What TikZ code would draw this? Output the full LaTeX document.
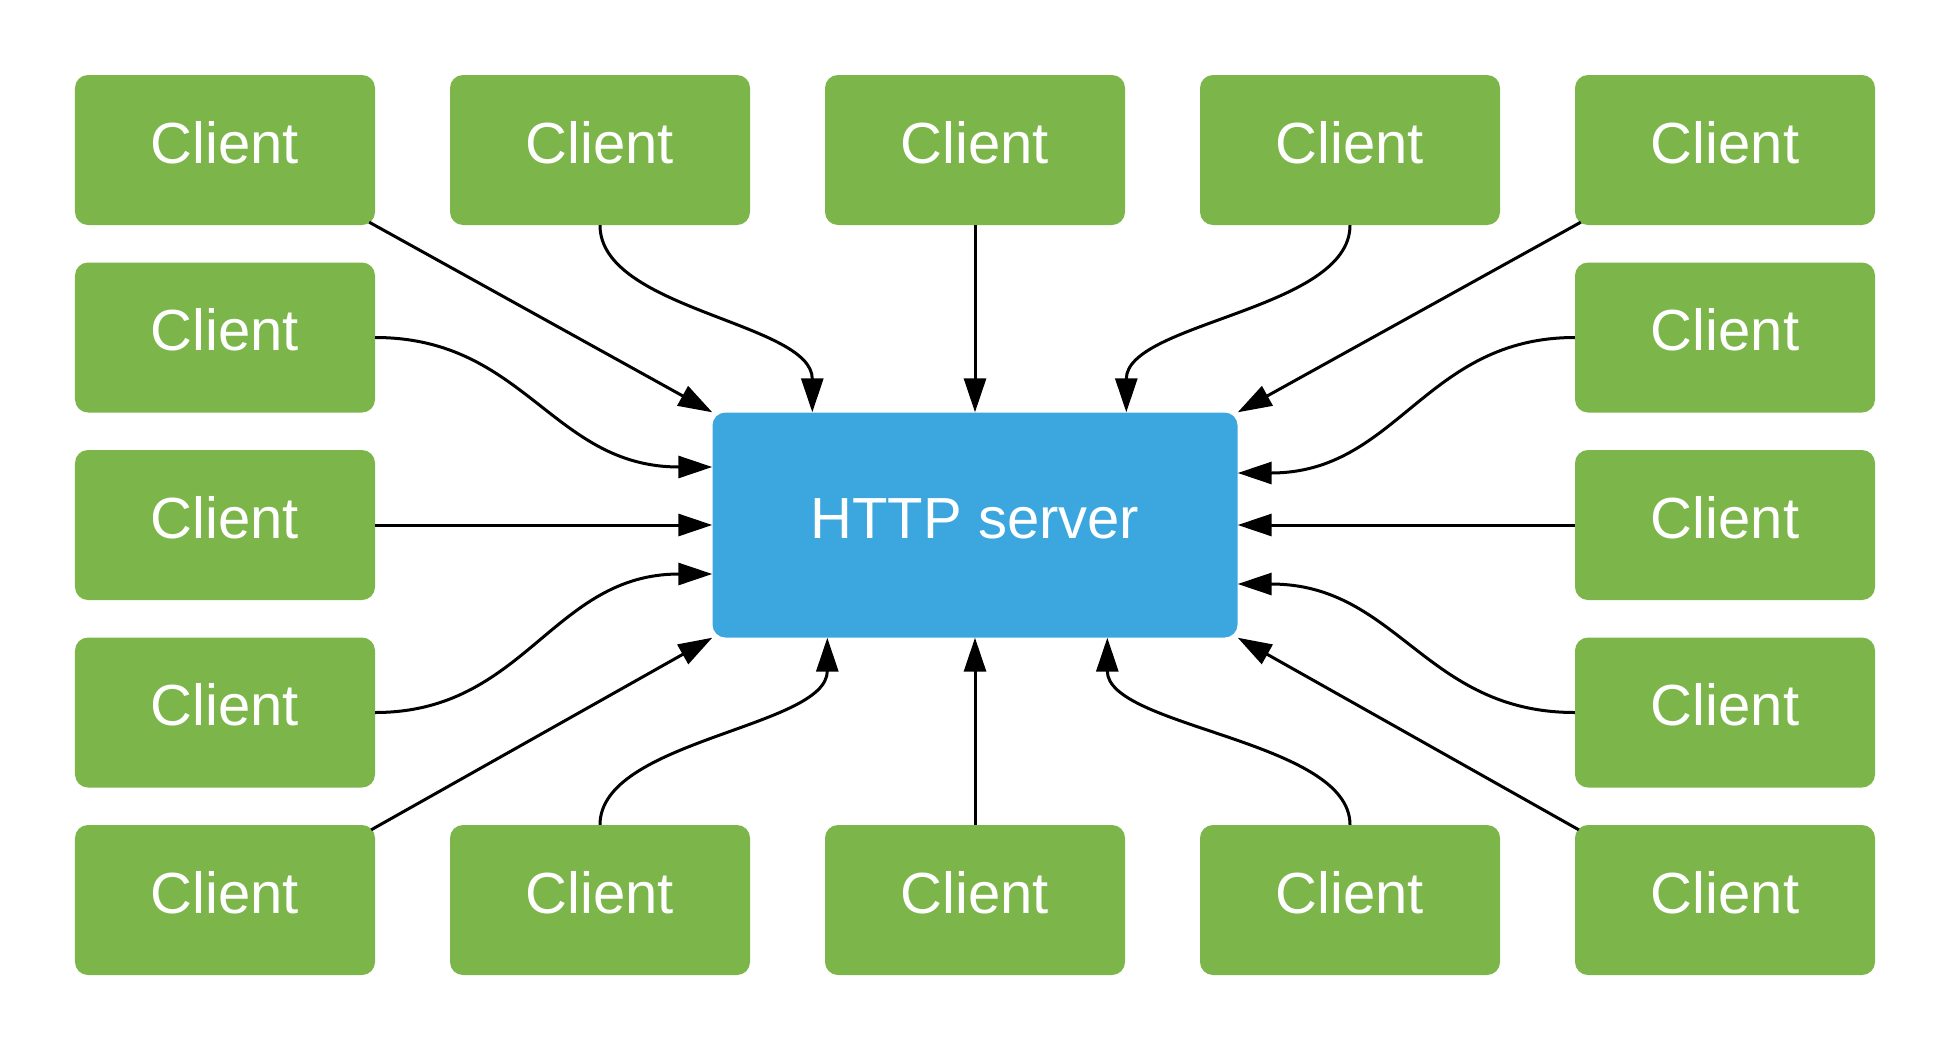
\documentclass[tikz,border=0pt]{standalone}
\usepackage{fontspec}
\setmainfont{Liberation Sans}
\usetikzlibrary{arrows.meta,calc}
\definecolor{cgreen}{HTML}{7CB64A}
\definecolor{sblue}{HTML}{3CA6DF}
\tikzset{
  client/.style={fill=cgreen, rounded corners=13bp, minimum width=300bp, minimum height=150bp,
    text=white, font=\fontsize{58bp}{60bp}\selectfont, text height=42bp, text depth=16bp, inner sep=0bp},
  server/.style={fill=sblue, rounded corners=13bp, minimum width=525bp, minimum height=225bp,
    text=white, font=\fontsize{58bp}{60bp}\selectfont, text height=42bp, text depth=16bp, inner sep=0bp},
  conn/.style={draw=black, line width=3bp, -{Triangle[length=34bp,width=22bp]}}
}
\begin{document}
\begin{tikzpicture}[x=1bp,y=-1bp]
\useasboundingbox (0,0) rectangle (1950,1050);
% server
\node[server] (srv) at (975,525) {HTTP server};
% top row
\node[client] (c11) at (225,150) {Client};
\node[client] (c12) at (600,150) {Client};
\node[client] (c13) at (975,150) {Client};
\node[client] (c14) at (1350,150) {Client};
\node[client] (c15) at (1725,150) {Client};
% side rows
\node[client] (c21) at (225,337.5) {Client};
\node[client] (c25) at (1725,337.5) {Client};
\node[client] (c31) at (225,525) {Client};
\node[client] (c35) at (1725,525) {Client};
\node[client] (c41) at (225,712.5) {Client};
\node[client] (c45) at (1725,712.5) {Client};
% bottom row
\node[client] (c51) at (225,900) {Client};
\node[client] (c52) at (600,900) {Client};
\node[client] (c53) at (975,900) {Client};
\node[client] (c54) at (1350,900) {Client};
\node[client] (c55) at (1725,900) {Client};
% coordinates on server
\coordinate (t1) at ([xshift=100bp]srv.north west);
\coordinate (t2) at ([xshift=414bp]srv.north west);
\coordinate (b1) at ([xshift=115bp]srv.south west);
\coordinate (b2) at ([xshift=395bp]srv.south west);
\coordinate (l1) at ([yshift=58bp]srv.west);
\coordinate (l2) at ([yshift=-49bp]srv.west);
\coordinate (r1) at ([yshift=52bp]srv.east);
\coordinate (r2) at ([yshift=-59bp]srv.east);
% connectors top
\draw[conn] ([xshift=-6bp,yshift=3bp]c11.south east) -- (srv.north west);
\draw[conn] (c12.south) .. controls ($(c12.south)+(0,85)$) and ($(t1)+(0,-90)$) .. (t1);
\draw[conn] (c13.south) -- (srv.north);
\draw[conn] (c14.south) .. controls ($(c14.south)+(0,85)$) and ($(t2)+(0,-90)$) .. (t2);
\draw[conn] ([xshift=6bp,yshift=3bp]c15.south west) -- (srv.north east);
% sides
\draw[conn] (c21.east) .. controls ($(c21.east)+(150,0)$) and ($(l1)+(-160,0)$) .. (l1);
\draw[conn] (c31.east) -- (srv.west);
\draw[conn] (c41.east) .. controls ($(c41.east)+(150,0)$) and ($(l2)+(-160,0)$) .. (l2);
\draw[conn] (c25.west) .. controls ($(c25.west)+(-150,0)$) and ($(r1)+(160,0)$) .. (r1);
\draw[conn] (c35.west) -- (srv.east);
\draw[conn] (c45.west) .. controls ($(c45.west)+(-150,0)$) and ($(r2)+(160,0)$) .. (r2);
% bottom
\draw[conn] ([xshift=-4bp,yshift=-5bp]c51.north east) -- (srv.south west);
\draw[conn] (c52.north) .. controls ($(c52.north)+(0,-85)$) and ($(b1)+(0,90)$) .. (b1);
\draw[conn] (c53.north) -- (srv.south);
\draw[conn] (c54.north) .. controls ($(c54.north)+(0,-85)$) and ($(b2)+(0,90)$) .. (b2);
\draw[conn] ([xshift=4bp,yshift=-5bp]c55.north west) -- (srv.south east);
\end{tikzpicture}
\end{document}
